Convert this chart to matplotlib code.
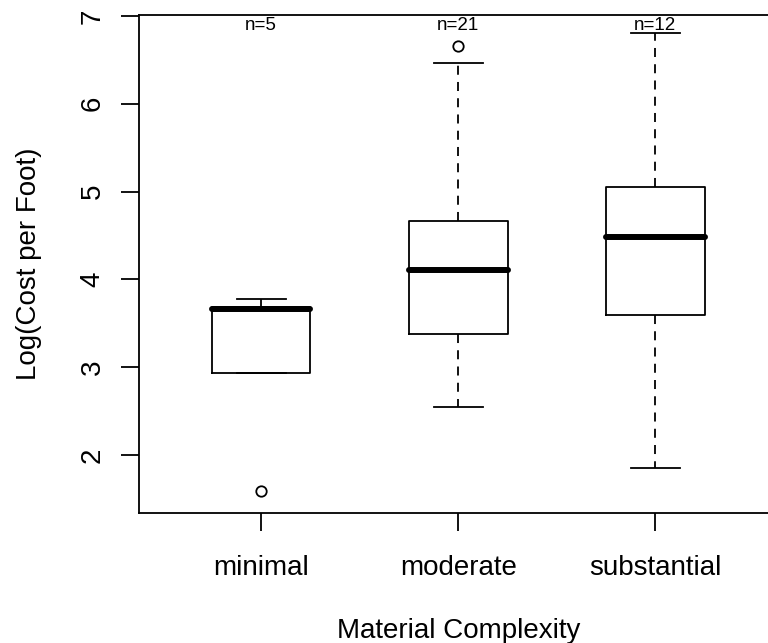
import numpy as np
import matplotlib.pyplot as plt

# box statistics (log cost per foot)
groups = ["minimal", "moderate", "substantial"]
counts = [5, 21, 12]
q1 = [2.93, 3.38, 3.59]
medians = [3.66, 4.11, 4.48]
q3 = [3.69, 4.67, 5.05]
whisk_lo = [2.93, 2.55, 1.85]
whisk_hi = [3.78, 6.46, 6.81]
outliers = [[1.59], [6.66], []]

plt.rcParams['font.family'] = ['Liberation Sans', 'DejaVu Sans']

LW = 1.3

fig = plt.figure(figsize=(7.68, 6.43), dpi=100)
ax = fig.add_axes([0.181, 0.2022, 0.8314, 0.7745])

stats = []
for i, name in enumerate(groups):
    stats.append(dict(label=name, med=medians[i], q1=q1[i], q3=q3[i],
                      whislo=whisk_lo[i], whishi=whisk_hi[i], fliers=outliers[i]))

pos = np.arange(1, len(groups) + 1)
ax.bxp(stats, positions=pos, widths=0.5, patch_artist=False,
       boxprops=dict(color="black", linewidth=LW),
       whiskerprops=dict(color="black", linewidth=LW, linestyle=(0, (5, 4))),
       capprops=dict(color="black", linewidth=LW),
       capwidths=0.25,
       medianprops=dict(color="black", linewidth=4.3, solid_capstyle="round"),
       flierprops=dict(marker="o", markerfacecolor="none", markeredgecolor="black",
                       markersize=7.5, markeredgewidth=LW))

for p, n in zip(pos, counts):
    ax.text(p, 0.978, f"n={n}", transform=ax.get_xaxis_transform(),
            ha="center", va="center", fontsize=13.5)

ax.set_xlim(0.38, 3.62)
ax.set_ylim(1.34, 7.01)
ax.set_xticks(pos)
ax.set_xticklabels(groups)
ax.set_yticks([2, 3, 4, 5, 6, 7])
ax.tick_params(axis="both", direction="out", length=13, width=LW, labelsize=20)
ax.tick_params(axis="y", pad=11, labelrotation=90)
ax.tick_params(axis="x", pad=17)
for lab in ax.get_yticklabels():
    lab.set_va("center")

for s in ax.spines.values():
    s.set_linewidth(LW)

ax.set_xlabel("Material Complexity", fontsize=20, labelpad=27)
ax.set_ylabel("Log(Cost per Foot)", fontsize=20, labelpad=27)

fig.savefig("out.png", dpi=100)
